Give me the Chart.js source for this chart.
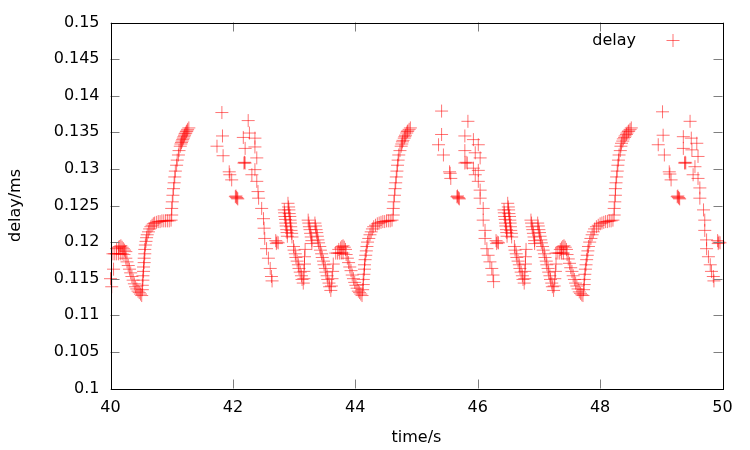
<!DOCTYPE html>
<html>
<head>
<meta charset="utf-8">
<script src="https://cdn.jsdelivr.net/npm/chart.js@4.4.1/dist/chart.umd.min.js"></script>
<style>
html,body{margin:0;padding:0;background:#fff;}
#wrap{width:750px;height:450px;}
</style>
</head>
<body>
<div id="wrap"><canvas id="c" width="750" height="450"></canvas></div>
<script>
// ---- data: [time/s, delay/ms] ----
const cycle1 = [
[40.00,0.1150],[40.02,0.1139],[40.05,0.1163],
[40.04,0.1184],[40.07,0.1184],[40.10,0.1184],[40.13,0.1184],[40.16,0.1184],[40.19,0.1184],
[40.10,0.1191],[40.13,0.1193],[40.15,0.1194],[40.17,0.1195],[40.19,0.1193],[40.21,0.1191],[40.23,0.1189],[40.25,0.1187],
[40.22,0.1183],[40.25,0.1178],[40.27,0.1173],[40.29,0.1168],[40.31,0.1163],[40.33,0.1158],[40.35,0.1153],[40.37,0.1148],[40.39,0.1143],[40.41,0.1139],[40.43,0.1136],[40.45,0.1133],[40.47,0.1131],[40.49,0.1129],[40.51,0.1127],
[40.52,0.1135],[40.52,0.1141],[40.53,0.1148],[40.53,0.1154],[40.54,0.1160],[40.54,0.1166],[40.55,0.1172],[40.55,0.1178],[40.56,0.1184],[40.56,0.1190],[40.57,0.1196],[40.58,0.1201],[40.59,0.1206],[40.60,0.1210],[40.62,0.1214],[40.64,0.1218],[40.66,0.1221],[40.68,0.1223],[40.70,0.1225],[40.72,0.1226],[40.75,0.1227],[40.78,0.1228],[40.81,0.1228],[40.84,0.1229],[40.87,0.1229],[40.90,0.1229],[40.93,0.1229],[40.96,0.1229],[40.99,0.1230],
[41.00,0.1237],[41.00,0.1246],[41.01,0.1255],[41.02,0.1264],[41.03,0.1273],[41.04,0.1281],[41.05,0.1289],[41.06,0.1297],[41.08,0.1305],[41.09,0.1312],[41.11,0.1319],[41.12,0.1325],[41.14,0.1331],[41.15,0.1334],[41.16,0.1336],[41.17,0.1338],[41.18,0.1340],[41.19,0.1342],[41.20,0.1344],[41.21,0.1346],[41.22,0.1348],[41.23,0.1349],[41.24,0.1351],[41.25,0.1352],[41.26,0.1354],[41.28,0.1356],
[41.82,0.1377],[41.83,0.1345],[41.74,0.1331],[41.84,0.1318],[41.94,0.1296],[41.95,0.1292],[41.98,0.1285],
[42.04,0.1262],[42.05,0.1263],[42.06,0.1261],[42.07,0.1260],[42.08,0.1259],
[42.25,0.1366],[42.17,0.1343],[42.27,0.1349],[42.36,0.1342],[42.20,0.1328],[42.36,0.1330],[42.18,0.1308],[42.19,0.1309],[42.20,0.1308],[42.39,0.1315],[42.36,0.1299],[42.31,0.1292],[42.39,0.1283],[42.41,0.1269],[42.42,0.1260],[42.47,0.1246],[42.50,0.1232],[42.51,0.1219],[42.52,0.1205],[42.55,0.1191],[42.58,0.1178],[42.61,0.1164],[42.63,0.1153],[42.64,0.1147],
[42.70,0.1202],[42.71,0.1198],[42.72,0.1200],[42.74,0.1199],
[42.84,0.1244],[42.845,0.1240],[42.85,0.1235],[42.86,0.1231],[42.865,0.1226],[42.87,0.1222],[42.88,0.1217],[42.885,0.1213],[42.89,0.1208],
[42.90,0.1253],[42.91,0.1248],[42.915,0.1244],[42.92,0.1239],[42.93,0.1235],[42.935,0.1230],[42.94,0.1226],[42.945,0.1221],[42.95,0.1216],[42.96,0.1212],[42.965,0.1207],
[42.99,0.1194],[43.00,0.1189],[43.02,0.1184],[43.03,0.1179],[43.05,0.1174],[43.07,0.1169],[43.08,0.1164],[43.10,0.1159],[43.12,0.1154],[43.13,0.1149],[43.15,0.1144],
[43.16,0.1150],[43.16,0.1160],[43.17,0.1170],[43.17,0.1180],[43.18,0.1190],
[43.23,0.1230],[43.24,0.1226],[43.25,0.1221],[43.26,0.1217],[43.27,0.1212],[43.28,0.1207],[43.29,0.1202],[43.29,0.1198],
[43.34,0.1226],[43.35,0.1222],[43.36,0.1217],[43.37,0.1213],[43.38,0.1208],[43.39,0.1203],[43.40,0.1199],[43.42,0.1194],
[43.43,0.1189],[43.45,0.1184],[43.46,0.1179],[43.48,0.1174],[43.49,0.1169],[43.51,0.1164],[43.52,0.1159],[43.54,0.1154],[43.55,0.1149],[43.57,0.1144],[43.58,0.1139],[43.60,0.1134],
[43.61,0.1140],[43.62,0.1150],[43.63,0.1160],[43.64,0.1170]
];
const cycle2 = [
[43.68,0.1185],[43.71,0.1185],[43.74,0.1185],[43.77,0.1185],[43.80,0.1185],
[43.73,0.1190],[43.76,0.1192],[43.78,0.1194],[43.80,0.1195],[43.82,0.1193],[43.84,0.1190],
[43.85,0.1183],[43.87,0.1178],[43.89,0.1172],[43.91,0.1166],[43.93,0.1161],[43.95,0.1155],[43.97,0.1150],[43.99,0.1145],[44.01,0.1141],[44.03,0.1137],[44.05,0.1133],[44.07,0.1131],[44.09,0.1129],[44.11,0.1127],
[44.12,0.1135],[44.13,0.1142],[44.13,0.1149],[44.14,0.1156],[44.15,0.1163],[44.15,0.1169],[44.16,0.1176],[44.17,0.1182],[44.18,0.1188],[44.19,0.1194],[44.20,0.1200],[44.22,0.1205],[44.24,0.1210],[44.26,0.1214],[44.28,0.1218],[44.30,0.1221],[44.33,0.1223],[44.36,0.1225],[44.39,0.1226],[44.42,0.1227],[44.45,0.1228],[44.48,0.1228],[44.51,0.1229],[44.54,0.1229],[44.57,0.1229],[44.60,0.1230],
[44.62,0.1237],[44.62,0.1246],[44.63,0.1255],[44.64,0.1264],[44.65,0.1273],[44.66,0.1281],[44.67,0.1289],[44.68,0.1297],[44.69,0.1305],[44.70,0.1312],[44.71,0.1319],[44.73,0.1325],[44.75,0.1331],[44.76,0.1334],[44.77,0.1337],[44.78,0.1339],[44.80,0.1342],[44.81,0.1344],[44.82,0.1346],[44.84,0.1349],[44.85,0.1351],[44.86,0.1352],[44.88,0.1354],[44.90,0.1356],
[45.41,0.1379],[45.41,0.1347],[45.36,0.1333],[45.44,0.1319],[45.54,0.1296],[45.55,0.1294],[45.56,0.1287],
[45.66,0.1262],[45.67,0.1263],[45.68,0.1261],[45.69,0.1260],[45.70,0.1259],
[45.84,0.1365],[45.79,0.1345],[45.93,0.1340],[46.01,0.1333],[45.79,0.1325],[45.96,0.1322],[46.04,0.1315],[45.79,0.1308],[45.81,0.1309],[45.83,0.1308],[45.93,0.1301],[46.01,0.1298],[45.96,0.1292],[46.01,0.1283],[46.04,0.1271],[46.04,0.1260],[46.09,0.1246],[46.09,0.1230],[46.12,0.1216],[46.12,0.1205],[46.15,0.1191],[46.17,0.1182],[46.20,0.1173],[46.23,0.1164],[46.25,0.1155],[46.26,0.1146],
[46.30,0.1202],[46.31,0.1198],[46.32,0.1200],[46.34,0.1199],
[46.43,0.1244],[46.435,0.1240],[46.44,0.1235],[46.45,0.1231],[46.455,0.1226],[46.46,0.1222],[46.47,0.1217],[46.475,0.1213],[46.48,0.1208],
[46.49,0.1253],[46.50,0.1248],[46.505,0.1244],[46.51,0.1239],[46.52,0.1235],[46.525,0.1230],[46.53,0.1226],[46.535,0.1221],[46.54,0.1216],[46.55,0.1212],[46.555,0.1207],
[46.60,0.1194],[46.61,0.1189],[46.63,0.1184],[46.64,0.1179],[46.66,0.1174],[46.68,0.1169],[46.69,0.1164],[46.71,0.1159],[46.73,0.1154],[46.74,0.1149],[46.76,0.1144],
[46.77,0.1150],[46.77,0.1160],[46.78,0.1170],[46.78,0.1180],[46.79,0.1190],
[46.87,0.1230],[46.88,0.1226],[46.89,0.1221],[46.90,0.1217],[46.91,0.1212],[46.92,0.1207],[46.93,0.1202],[46.93,0.1198],
[46.98,0.1226],[46.99,0.1222],[47.00,0.1217],[47.01,0.1213],[47.02,0.1208],[47.03,0.1203],[47.04,0.1199],[47.06,0.1194],
[47.07,0.1189],[47.09,0.1184],[47.10,0.1179],[47.12,0.1174],[47.13,0.1169],[47.15,0.1164],[47.16,0.1159],[47.18,0.1154],[47.19,0.1149],[47.21,0.1144],[47.22,0.1139],[47.24,0.1134],
[47.25,0.1140],[47.26,0.1150],[47.27,0.1160],[47.28,0.1170]
];
const cycle3 = [
[47.28,0.1185],[47.31,0.1185],[47.34,0.1185],[47.37,0.1185],[47.40,0.1185],
[47.35,0.1190],[47.37,0.1192],[47.39,0.1194],[47.41,0.1195],[47.43,0.1193],[47.45,0.1190],
[47.46,0.1183],[47.48,0.1177],[47.50,0.1171],[47.52,0.1165],[47.54,0.1160],[47.56,0.1154],[47.58,0.1149],[47.60,0.1144],[47.62,0.1140],[47.64,0.1136],[47.66,0.1132],[47.68,0.1130],[47.70,0.1128],[47.72,0.1127],
[47.73,0.1135],[47.74,0.1142],[47.74,0.1149],[47.75,0.1156],[47.76,0.1163],[47.77,0.1169],[47.78,0.1176],[47.79,0.1182],[47.80,0.1188],[47.81,0.1194],[47.83,0.1200],[47.85,0.1205],[47.87,0.1210],[47.89,0.1214],[47.91,0.1218],[47.94,0.1221],[47.97,0.1223],[48.00,0.1225],[48.03,0.1226],[48.06,0.1227],[48.09,0.1228],[48.12,0.1228],[48.15,0.1229],[48.18,0.1229],[48.21,0.1230],
[48.23,0.1237],[48.23,0.1246],[48.24,0.1255],[48.25,0.1264],[48.25,0.1273],[48.26,0.1281],[48.27,0.1289],[48.28,0.1297],[48.29,0.1305],[48.30,0.1312],[48.31,0.1319],[48.33,0.1325],[48.34,0.1331],[48.35,0.1335],[48.37,0.1338],[48.38,0.1341],[48.40,0.1343],[48.41,0.1345],[48.43,0.1347],[48.44,0.1349],[48.46,0.1351],[48.47,0.1352],[48.49,0.1354],[48.51,0.1356],
[49.02,0.1378],[49.03,0.1346],[48.95,0.1333],[49.05,0.1319],[49.13,0.1296],[49.14,0.1293],[49.16,0.1285],
[49.26,0.1262],[49.27,0.1263],[49.28,0.1261],[49.29,0.1260],[49.30,0.1259],
[49.47,0.1365],[49.36,0.1344],[49.49,0.1342],[49.58,0.1335],[49.36,0.1328],[49.50,0.1326],[49.60,0.1317],[49.38,0.1308],[49.39,0.1309],[49.40,0.1308],[49.55,0.1303],[49.52,0.1292],[49.60,0.1287],[49.63,0.1274],[49.63,0.1260],[49.69,0.1244],[49.71,0.1230],[49.71,0.1216],[49.74,0.1203],[49.74,0.1191],[49.77,0.1180],[49.80,0.1169],[49.82,0.1160],[49.85,0.1153],[49.86,0.1147],
[49.92,0.1202],[49.93,0.1198],[49.94,0.1200],[49.96,0.1199]
];
const seriesName = "delay";
const xTickValues = [40, 42, 44, 46, 48, 50];
const xTickLabels = ["40", "42", "44", "46", "48", "50"];
const yTickValues = [0.1, 0.105, 0.11, 0.115, 0.12, 0.125, 0.13, 0.135, 0.14, 0.145, 0.15];
const yTickLabels = ["0.1", "0.105", "0.11", "0.115", "0.12", "0.125", "0.13", "0.135", "0.14", "0.145", "0.15"];
const xTitle = "time/s";
const yTitle = "delay/ms";

const points = cycle1.concat(cycle2, cycle3).map(p => ({x: p[0], y: p[1]}));
const FONT = "'DejaVu Sans', sans-serif";
const MARK = 'rgba(255,0,0,0.55)';

const frame = {
  id: 'frame',
  afterDatasetsDraw(chart) {
    const {ctx, chartArea: a, scales} = chart;
    ctx.save();
    ctx.lineWidth = 1;
    ctx.strokeStyle = '#7f7f7f';
    const L = 9;
    ctx.beginPath();
    xTickValues.forEach(v => {
      const px = Math.round(scales.x.getPixelForValue(v)) + 0.5;
      ctx.moveTo(px, a.bottom); ctx.lineTo(px, a.bottom - L);
      ctx.moveTo(px, a.top); ctx.lineTo(px, a.top + L);
    });
    yTickValues.forEach(v => {
      const py = Math.round(scales.y.getPixelForValue(v)) + 0.5;
      ctx.moveTo(a.left, py); ctx.lineTo(a.left + L, py);
      ctx.moveTo(a.right, py); ctx.lineTo(a.right - L, py);
    });
    ctx.stroke();
    ctx.strokeStyle = '#000';
    ctx.strokeRect(Math.round(a.left) + 0.5, Math.round(a.top) + 0.5,
                   Math.round(a.right - a.left), Math.round(a.bottom - a.top));
    // legend
    ctx.fillStyle = '#000';
    ctx.font = '16px ' + FONT;
    ctx.textAlign = 'right';
    ctx.textBaseline = 'middle';
    ctx.fillText(seriesName, 636, 41);
    ctx.strokeStyle = MARK;
    ctx.beginPath();
    ctx.moveTo(666.5, 40.5); ctx.lineTo(679.5, 40.5);
    ctx.moveTo(673, 34); ctx.lineTo(673, 47);
    ctx.stroke();
    ctx.restore();
  }
};

new Chart(document.getElementById('c'), {
  type: 'scatter',
  data: {
    datasets: [{
      label: seriesName,
      data: points,
      pointStyle: 'cross',
      pointRadius: 6.5,
      pointHoverRadius: 6.5,
      pointBorderWidth: 1,
      borderColor: MARK,
      backgroundColor: MARK,
      clip: false
    }]
  },
  options: {
    responsive: false,
    animation: false,
    events: [],
    layout: {padding: {top: 22.5, right: 27.5, left: 0, bottom: 0}},
    plugins: {legend: {display: false}, tooltip: {enabled: false}},
    scales: {
      x: {
        type: 'linear', min: 40, max: 50,
        afterFit(s) { s.height = 61.5; },
        afterBuildTicks(s) { s.ticks = xTickValues.map(v => ({value: v})); },
        grid: {display: false, drawTicks: false},
        border: {display: false},
        ticks: {
          padding: 10, color: '#000', font: {family: FONT, size: 16},
          maxRotation: 0, autoSkip: false,
          callback: (v, i) => xTickLabels[i]
        },
        title: {display: true, text: xTitle, color: '#000', font: {family: FONT, size: 16}, padding: {top: 0, bottom: 3}}
      },
      y: {
        type: 'linear', min: 0.1, max: 0.15,
        afterFit(s) { s.width = 110.5; },
        afterBuildTicks(s) { s.ticks = yTickValues.map(v => ({value: v})); },
        grid: {display: false, drawTicks: false},
        border: {display: false},
        ticks: {
          padding: 11, color: '#000', font: {family: FONT, size: 16}, autoSkip: false,
          callback: (v, i) => yTickLabels[i]
        },
        title: {display: true, text: yTitle, color: '#000', font: {family: FONT, size: 16}, padding: {top: 6, bottom: 0}}
      }
    }
  },
  plugins: [frame]
});
</script>
</body>
</html>
